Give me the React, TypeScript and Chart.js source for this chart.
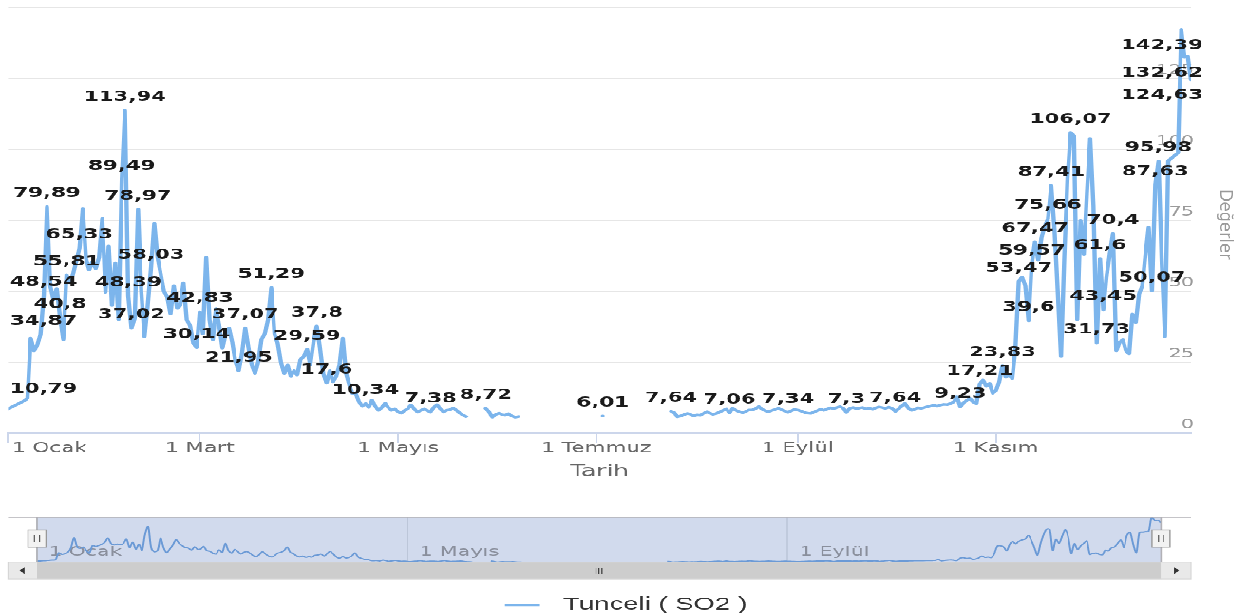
import React, { useEffect, useRef } from 'react';
import { Chart, registerables } from 'chart.js';

Chart.register(...registerables);

// ---------------- data ----------------
const seriesName = 'Tunceli ( SO2 )';
const xAxisTitle = 'Tarih';
const yAxisTitle = 'Değerler';

// daily SO2 values, day 0 = 1 Ocak ... day 364 = 31 Aralık (null = no data)
const dayValues: (number | null)[] = [
  8.5, 9.0, 9.6, 10.2, 10.79, 11.4, 12.3, 33.5, 29.0, 31.0,
  34.87, 48.54, 79.89, 52.0, 47.0, 51.0, 40.8, 33.0, 55.81, 53.0,
  56.0, 60.5, 65.33, 79.2, 61.6, 57.5, 60.5, 58.0, 62.0, 75.7,
  49.6, 66.0, 45.0, 60.0, 40.0, 89.49, 113.94, 48.39, 37.02, 40.5,
  78.97, 50.0, 34.0, 45.0, 58.03, 74.0, 62.0, 56.0, 50.0, 48.0,
  42.0, 52.0, 44.0, 45.0, 53.0, 40.0, 38.0, 31.7, 30.14, 42.83,
  35.0, 62.0, 40.0, 33.0, 44.0, 38.0, 30.0, 35.0, 37.0, 32.0,
  25.0, 21.95, 28.0, 37.07, 30.0, 24.0, 21.0, 25.0, 33.0, 35.0,
  40.0, 51.29, 35.0, 31.7, 25.0, 21.0, 24.0, 20.0, 22.0, 20.5,
  26.0, 27.0, 29.59, 24.0, 32.0, 37.8, 30.0, 21.0, 17.6, 22.0,
  18.0, 20.0, 24.0, 33.5, 21.0, 17.0, 14.0, 14.0, 11.0, 9.5,
  10.34, 9.0, 11.6, 9.5, 8.0, 9.0, 10.5, 9.0, 8.0, 8.5,
  7.5, 7.0, 8.0, 8.5, 9.9, 8.5, 7.4, 8.0, 8.5, 8.0,
  7.38, 9.0, 10.0, 8.5, 7.4, 8.0, 8.2, 8.8, 8.0, 7.0,
  6.3, 5.8, null, null, null, null, null, 8.72, 7.5, 5.6,
  6.5, 7.0, 6.5, 6.3, 6.8, 6.0, 5.6, 5.8, null, null,
  null, null, null, null, null, null, null, null, null, null,
  null, null, null, null, null, null, null, null, null, null,
  null, null, null, 6.01, null, null, null, null, null, null,
  null, null, null, null, null, null, null, null, null, null,
  null, null, null, null, 7.64, 7.2, 5.7, 6.0, 6.5, 6.9,
  6.6, 6.0, 6.4, 6.3, 6.9, 7.5, 7.0, 6.6, 6.9, 7.4,
  8.0, 8.5, 7.06, 8.7, 8.0, 7.5, 7.2, 7.6, 8.1, 8.1,
  8.6, 9.3, 8.4, 7.8, 7.5, 7.9, 8.3, 8.7, 8.2, 7.7,
  7.34, 7.8, 8.3, 8.1, 7.7, 7.3, 7.0, 6.9, 7.4, 7.9,
  8.4, 8.0, 8.4, 8.9, 8.6, 9.0, 9.3, 8.8, 7.3, 8.7,
  9.0, 8.6, 8.8, 9.0, 8.5, 8.8, 8.4, 8.9, 9.2, 9.0,
  8.7, 9.1, 8.7, 7.64, 8.5, 9.5, 10.4, 8.8, 8.0, 8.4,
  8.9, 8.7, 9.0, 9.3, 9.6, 9.8, 9.5, 9.9, 10.1, 10.0,
  10.4, 11.0, 12.8, 9.23, 10.6, 11.5, 12.2, 10.8, 10.4, 17.21,
  18.7, 16.5, 17.5, 14.0, 15.0, 18.0, 23.83, 19.7, 20.5, 19.2,
  30.0, 53.47, 55.0, 52.0, 39.6, 59.57, 67.47, 61.0, 69.0, 73.0,
  75.66, 87.41, 72.0, 50.0, 27.0, 62.0, 90.0, 106.07, 105.0, 40.0,
  75.0, 63.0, 85.0, 104.0, 80.0, 31.73, 61.6, 43.45, 55.0, 63.0,
  70.4, 29.0, 32.0, 33.0, 29.0, 28.0, 42.0, 39.0, 49.0, 52.0,
  63.0, 72.6, 50.07, 87.63, 95.98, 60.0, 34.0, 96.0, 97.0, 98.0,
  99.0, 142.39, 132.62, 133.0, 124.63,
];

// days whose value is shown as a data label
const labelDays = [
  4, 10, 11, 12, 16, 18, 22, 35, 36, 37, 38, 40, 44, 58, 59, 71, 73, 81, 92, 95,
  98, 110, 130, 147, 183, 204, 222, 240, 258, 273, 293, 299, 306, 311, 314, 315,
  316, 320, 321, 327, 335, 336, 337, 340, 352, 353, 354, 361, 362, 364,
];

const monthTickDays = [0, 59, 120, 181, 243, 304];
const monthTickLabels = ['1 Ocak', '1 Mart', '1 Mayıs', '1 Temmuz', '1 Eylül', '1 Kasım'];
const navTickDays = [0, 120, 243];
const navTickLabels = ['1 Ocak', '1 Mayıs', '1 Eylül'];
const yTickValues = [0, 25, 50, 75, 100, 125, 150];

// ---------------- geometry (logical canvas, stretched to 1248x615) ----------------
const W = 657;
const H = 512;
const MAIN_H = 420;
const NAV_H = H - MAIN_H;
const SX = 1248 / W;
const SY = 615 / H;
const ix = (p: number) => p / SX;
const iy = (p: number) => p / SY;
const NAV_OFF = MAIN_H * SY; // image y where nav canvas starts

const PLOT_LEFT = ix(8);
const PLOT_RIGHT = ix(1191);
const PLOT_TOP = iy(8);
const PLOT_BOTTOM = iy(433);

const NAV_LEFT = ix(37);
const NAV_RIGHT = ix(1161);
const NAV_TOP = iy(517 - NAV_OFF);
const NAV_BOTTOM = iy(562 - NAV_OFF);

const fmt = (v: number) => String(v).replace('.', ',');
const lastDay = dayValues.length - 1;

const mainText = {
  id: 'mainText',
  afterDraw(chart: any) {
    const { ctx, chartArea: ca, scales } = chart;
    const xs = scales.x;
    const ys = scales.y;
    ctx.save();
    // x tick labels
    ctx.font = '11.3px "DejaVu Sans"';
    ctx.fillStyle = '#666666';
    ctx.textBaseline = 'middle';
    ctx.textAlign = 'left';
    monthTickDays.forEach((d, i) => {
      const t = monthTickLabels[i];
      const w = ctx.measureText(t).width;
      let l = xs.getPixelForValue(d) - w / 2;
      l = Math.max(l, ca.left + ix(4));
      ctx.fillText(t, l, iy(449));
    });
    // x title
    ctx.font = '13px "DejaVu Sans"';
    ctx.textAlign = 'center';
    ctx.fillText(xAxisTitle, (ca.left + ca.right) / 2, iy(472));
    // y title (rotated)
    ctx.save();
    ctx.translate(ix(1225), (ca.top + ca.bottom) / 2 + iy(4));
    ctx.rotate(Math.PI / 2);
    ctx.scale(1, 0.68);
    ctx.font = '13.5px "DejaVu Sans"';
    ctx.fillStyle = '#999999';
    ctx.textAlign = 'center';
    ctx.textBaseline = 'middle';
    ctx.fillText(yAxisTitle, 0, 0);
    ctx.restore();
    // data labels
    ctx.font = 'bold 11.2px "DejaVu Sans"';
    ctx.fillStyle = '#1a1a1a';
    ctx.textAlign = 'left';
    ctx.textBaseline = 'middle';
    labelDays.forEach((d) => {
      const v = dayValues[d];
      if (v == null) return;
      const t = fmt(v);
      const w = ctx.measureText(t).width;
      const px = xs.getPixelForValue(d);
      const py = ys.getPixelForValue(v);
      let l = px - w / 2;
      l = Math.max(l, ca.left + ix(2));
      l = Math.min(l, ca.right + ix(12) - w);
      const ty = d >= lastDay - 3 ? py + iy(16) : py - iy(13);
      ctx.fillText(t, l, ty);
    });
    ctx.restore();
  },
};

const navDecor = {
  id: 'navDecor',
  beforeDatasetsDraw(chart: any) {
    const { ctx, chartArea: ca, scales } = chart;
    const xs = scales.x;
    ctx.save();
    ctx.fillStyle = 'rgba(102,133,194,0.3)';
    ctx.fillRect(ca.left, ca.top, ca.right - ca.left, ca.bottom - ca.top);
    ctx.strokeStyle = '#b4bed2';
    ctx.lineWidth = 0.6;
    navTickDays.forEach((d) => {
      const px = xs.getPixelForValue(d);
      ctx.beginPath();
      ctx.moveTo(px, ca.top);
      ctx.lineTo(px, ca.bottom);
      ctx.stroke();
    });
    ctx.font = '11px "DejaVu Sans"';
    ctx.fillStyle = '#8a8f9c';
    ctx.textBaseline = 'middle';
    ctx.textAlign = 'left';
    navTickDays.forEach((d, i) => {
      ctx.fillText(navTickLabels[i], xs.getPixelForValue(d) + ix(12), iy(552 - NAV_OFF));
    });
    ctx.restore();
  },
  afterDatasetsDraw(chart: any) {
    const { ctx, chartArea: ca } = chart;
    ctx.save();
    const sL = ix(8);
    const sR = ix(1191);
    // outline
    ctx.strokeStyle = '#b2b1b6';
    ctx.lineWidth = 0.8;
    ctx.beginPath();
    ctx.moveTo(sL, ca.top);
    ctx.lineTo(sR, ca.top);
    ctx.moveTo(ca.left, ca.top);
    ctx.lineTo(ca.left, ca.bottom);
    ctx.moveTo(ca.right, ca.top);
    ctx.lineTo(ca.right, ca.bottom);
    ctx.stroke();

    // scrollbar
    const sTop = iy(562 - NAV_OFF);
    const sBot = iy(579 - NAV_OFF);
    const sH = sBot - sTop;
    ctx.fillStyle = '#f2f2f2';
    ctx.fillRect(sL, sTop, sR - sL, sH);
    ctx.fillStyle = '#cdcdcd';
    ctx.fillRect(ca.left, sTop, ca.right - ca.left, sH);
    ctx.fillStyle = '#e9e9e9';
    ctx.fillRect(sL, sTop, ca.left - sL, sH);
    ctx.fillRect(ca.right, sTop, sR - ca.right, sH);
    ctx.strokeStyle = '#d6d6d6';
    ctx.lineWidth = 0.6;
    ctx.strokeRect(sL, sTop, sR - sL, sH);
    // arrows
    ctx.fillStyle = '#333333';
    const cy = sTop + sH / 2;
    const lc = (sL + ca.left) / 2;
    const rc = (ca.right + sR) / 2;
    ctx.beginPath();
    ctx.moveTo(lc - ix(3), cy);
    ctx.lineTo(lc + ix(2), cy - iy(3.5));
    ctx.lineTo(lc + ix(2), cy + iy(3.5));
    ctx.closePath();
    ctx.fill();
    ctx.beginPath();
    ctx.moveTo(rc + ix(3), cy);
    ctx.lineTo(rc - ix(2), cy - iy(3.5));
    ctx.lineTo(rc - ix(2), cy + iy(3.5));
    ctx.closePath();
    ctx.fill();
    // grip
    const gc = (ca.left + ca.right) / 2;
    ctx.strokeStyle = '#333333';
    ctx.lineWidth = 0.6;
    [-ix(3), 0, ix(3)].forEach((o) => {
      ctx.beginPath();
      ctx.moveTo(gc + o, cy - iy(3));
      ctx.lineTo(gc + o, cy + iy(3));
      ctx.stroke();
    });

    // handles
    const hw = ix(18);
    const hh = iy(17);
    const hy = iy(530 - NAV_OFF);
    [ca.left, ca.right].forEach((hx) => {
      ctx.fillStyle = '#f2f2f2';
      ctx.fillRect(hx - hw / 2, hy, hw, hh);
      ctx.strokeStyle = '#999999';
      ctx.lineWidth = 0.7;
      ctx.strokeRect(hx - hw / 2, hy, hw, hh);
      ctx.strokeStyle = '#555555';
      ctx.lineWidth = 0.6;
      [-hw * 0.14, hw * 0.14].forEach((o) => {
        ctx.beginPath();
        ctx.moveTo(hx + o, hy + hh * 0.28);
        ctx.lineTo(hx + o, hy + hh * 0.72);
        ctx.stroke();
      });
    });

    // legend
    const ly = iy(605 - NAV_OFF);
    ctx.strokeStyle = '#7cb5ec';
    ctx.lineWidth = 2;
    ctx.beginPath();
    ctx.moveTo(ix(505), ly);
    ctx.lineTo(ix(540), ly);
    ctx.stroke();
    ctx.font = '14.5px "Liberation Sans"';
    ctx.fillStyle = '#333333';
    ctx.textAlign = 'left';
    ctx.textBaseline = 'middle';
    ctx.fillText(seriesName, ix(563), ly);
    ctx.restore();
  },
};

export default function App() {
  const mainRef = useRef<HTMLCanvasElement>(null);
  const navRef = useRef<HTMLCanvasElement>(null);

  useEffect(() => {
    const mainPoints = dayValues.map((v, d) => ({ x: d, y: v }));
    const navPoints = dayValues.map((v, d) => ({ x: d, y: v }));
    const valid = dayValues.filter((v) => v != null) as number[];
    const navMin = Math.min(...valid);
    const navMax = Math.max(...valid);

    const main = new Chart(mainRef.current as HTMLCanvasElement, {
      type: 'line',
      data: {
        datasets: [
          {
            label: seriesName,
            data: mainPoints as any,
            borderColor: '#7cb5ec',
            borderWidth: 2.2,
            borderJoinStyle: 'round',
            borderCapStyle: 'round',
            pointRadius: 0,
            tension: 0,
            spanGaps: false,
            fill: false,
          },
        ],
      },
      options: {
        animation: false,
        responsive: true,
        maintainAspectRatio: false,
        devicePixelRatio: 2,
        events: [],
        layout: { padding: { left: PLOT_LEFT, top: PLOT_TOP, right: 0, bottom: 0 } },
        plugins: { legend: { display: false }, tooltip: { enabled: false } },
        scales: {
          x: {
            type: 'linear',
            min: 0,
            max: lastDay,
            afterBuildTicks: (s: any) => {
              s.ticks = monthTickDays.map((v) => ({ value: v }));
            },
            ticks: { display: false },
            grid: {
              display: true,
              drawOnChartArea: false,
              drawTicks: true,
              tickLength: iy(10),
              color: '#ccd6eb',
              lineWidth: 1,
            },
            border: { display: true, color: '#ccd6eb', width: 1 },
            afterFit: (s: any) => {
              s.height = MAIN_H - PLOT_BOTTOM;
              s.paddingLeft = 0;
              s.paddingRight = 0;
              s.paddingTop = 0;
              s.paddingBottom = 0;
            },
          },
          y: {
            type: 'linear',
            position: 'right',
            min: 0,
            max: 150,
            afterBuildTicks: (s: any) => {
              s.ticks = yTickValues.map((v) => ({ value: v }));
            },
            ticks: {
              mirror: true,
              padding: ix(3),
              labelOffset: -iy(8),
              color: '#9a9a9a',
              font: { family: 'DejaVu Sans', size: 10.5 },
              callback: (v: any) => (v === 150 ? '' : String(v)),
            },
            grid: { color: '#e6e6e6', drawTicks: false, lineWidth: 1 },
            border: { display: false },
            afterFit: (s: any) => {
              s.width = W - PLOT_RIGHT;
              s.paddingLeft = 0;
              s.paddingRight = 0;
              s.paddingTop = 0;
              s.paddingBottom = 0;
            },
          },
        },
      } as any,
      plugins: [mainText],
    });

    const nav = new Chart(navRef.current as HTMLCanvasElement, {
      type: 'line',
      data: {
        datasets: [
          {
            label: seriesName,
            data: navPoints as any,
            borderColor: '#6b9ad6',
            borderWidth: 1,
            pointRadius: 0,
            tension: 0.3,
            spanGaps: false,
            fill: false,
          },
        ],
      },
      options: {
        animation: false,
        responsive: true,
        maintainAspectRatio: false,
        devicePixelRatio: 2,
        events: [],
        layout: {
          padding: { left: NAV_LEFT, right: W - NAV_RIGHT, top: NAV_TOP, bottom: NAV_H - NAV_BOTTOM },
        },
        plugins: { legend: { display: false }, tooltip: { enabled: false } },
        scales: {
          x: { type: 'linear', display: false, min: 0, max: lastDay },
          y: { type: 'linear', display: false, min: navMin, max: navMax },
        },
      } as any,
      plugins: [navDecor],
    });

    return () => {
      main.destroy();
      nav.destroy();
    };
  }, []);

  return (
    <div
      style={{
        position: 'fixed',
        left: 0,
        top: 0,
        width: 1248,
        height: 615,
        overflow: 'hidden',
        background: '#ffffff',
      }}
    >
      <div
        style={{
          width: W,
          height: H,
          transform: `scale(${SX}, ${SY})`,
          transformOrigin: '0 0',
        }}
      >
        <div style={{ position: 'relative', width: W, height: MAIN_H }}>
          <canvas ref={mainRef} />
        </div>
        <div style={{ position: 'relative', width: W, height: NAV_H }}>
          <canvas ref={navRef} />
        </div>
      </div>
    </div>
  );
}
